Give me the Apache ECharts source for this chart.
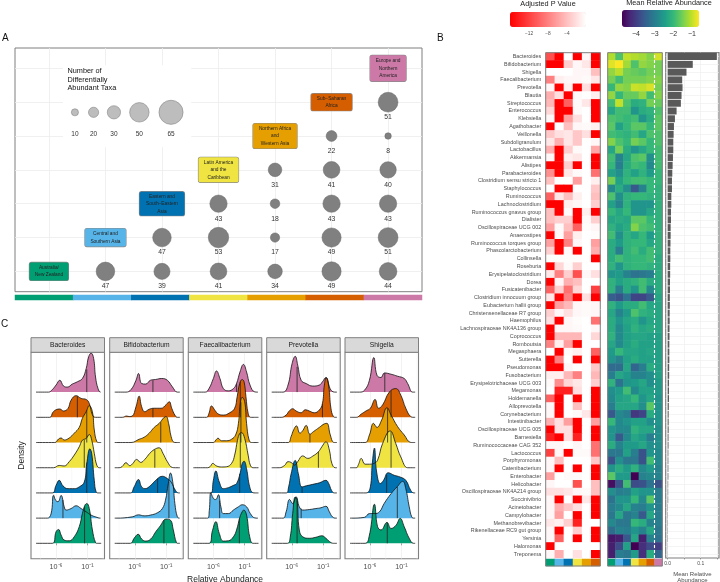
<!DOCTYPE html>
<html><head><meta charset="utf-8">
<style>html,body{margin:0;padding:0;background:#fff}#c{width:720px;height:582px}</style>
<script src="https://cdn.jsdelivr.net/npm/echarts@6/dist/echarts.min.js"></script>
</head><body><div id="c"></div>
<script>
const regionColors=['#009E73','#56B4E9','#0072B2','#F0E442','#E69F00','#D55E00','#CC79A7'];
const regionLabels=['Australia/\nNew Zealand','Central and\nSouthern Asia','Eastern and\nSouth\u2212Eastern\nAsia','Latin America\nand the\nCaribbean','Northern Africa\nand\nWestern Asia','Sub\u2212Saharan\nAfrica','Europe and\nNorthern\nAmerica'];
const taxaCounts=[[2,1,47],[3,1,39],[3,2,47],[4,1,41],[4,2,53],[4,3,43],[5,1,34],[5,2,17],[5,3,18],[5,4,31],[6,1,49],[6,2,49],[6,3,43],[6,4,41],[6,5,22],[7,1,44],[7,2,51],[7,3,43],[7,4,40],[7,5,8],[7,6,51]];
const legendCounts=[10,20,30,50,65];
const taxa=['Bacteroides','Bifidobacterium','Shigella','Faecalibacterium','Prevotella','Blautia','Streptococcus','Enterococcus','Klebsiella','Agathobacter','Veillonella','Subdoligranulum','Lactobacillus','Akkermansia','Alistipes','Parabacteroides','Clostridium sensu stricto 1','Staphylococcus','Ruminococcus','Lachnoclostridium','Ruminococcus gnavus group','Dialister','Oscillospiraceae UCG 002','Anaerostipes','Ruminococcus torques group','Phascolarctobacterium','Collinsella','Roseburia','Erysipelatoclostridium','Dorea','Fusicatenibacter','Clostridium innocuum group','Eubacterium hallii group','Christensenellaceae R7 group','Haemophilus','Lachnospiraceae NK4A136 group','Coprococcus','Romboutsia','Megasphaera','Sutterella','Pseudomonas','Fusobacterium','Erysipelotrichaceae UCG 003','Megamonas','Holdemanella','Alloprevotella','Corynebacterium','Intestinibacter','Oscillospiraceae UCG 005','Barnesiella','Ruminococcaceae CAG 352','Lactococcus','Porphyromonas','Catenibacterium','Enterobacter','Helicobacter','Oscillospiraceae NK4A214 group','Succinivibrio','Acinetobacter','Campylobacter','Methanobrevibacter','Rikenellaceae RC9 gut group','Yersinia','Halomonas','Treponema'];
const pValues=[[-11,-16,0,-16,-.5,-16],[-16,-16,-3,-.5,-1.5,-16],[0,0,0,-.5,-.5,-4],[-8,-1,-.5,-.5,-.3,-1.5],[-.5,-16,-1,-16,-2,-16],[-5,-2,-16,-.3,0,-1],[-4.5,-16,-10,-.3,-1.5,-16],[-2.5,-16,-16,-.3,0,-16],[-.5,-16,-6,-2,0,-16],[-16,0,-4,-.5,-.3,-1],[-3.5,-2,-1.5,-3.5,-2,-16],[-1.5,-5,-1.5,-3.5,0,-.5],[-5,-16,-3,-.3,0,-5.5],[-.5,-16,-1,-1.5,0,-16],[-16,-16,-3,-16,0,-16],[-7,-16,-1.5,-.3,0,-9],[-4,0,0,-6,0,-1],[0,-16,-16,0,0,-3.5],[-10,-1.5,-4,-1,0,-4],[-16,-16,-1,-.5,0,-3],[-4,-16,-.3,-16,-1,-16],[-4,-3,-3,-16,-.3,-3],[-6,-.3,-4,-10,-.2,-.5],[-16,-.3,-6,-1,0,-.2],[-6,-16,-8,-.5,0,-6],[-3,-16,-.3,-16,0,-5],[-.2,-.2,-.2,-.2,0,-16],[-16,-2.5,-.3,-3,0,0],[-1.5,-8,-3,-11,-.5,-2],[-16,-.5,-5,-4,0,0],[-10,-3,-9,-2.5,0,-12],[-1.5,-16,-8,-16,-2,-16],[-16,-6,-4.5,-.5,-.3,-.5],[-3,-.5,-2,-.5,-.3,-.5],[-2,-16,-.5,-.2,0,-9],[-16,-.5,-.5,-.3,0,-.5],[-16,-4.5,-4.5,-4.5,0,-2.5],[-8,-1,-6,-16,0,0],[0,-16,-.3,-1,0,-10],[-16,-8,0,-16,0,-16],[-16,-16,-.5,0,0,-3.5],[-1,-1,-4.5,-8,0,-4.5],[-.3,-7,-2.5,-1.5,0,-3],[0,-14,-14,-2,0,-16],[-10,-16,0,-16,0,-16],[-.5,-16,0,-4,0,-16],[-.5,-16,0,-.3,-1.5,-16],[-5,-2,-6,-16,0,-6],[-16,-2,-2,-16,0,-16],[-14,-16,-2,-14,0,-16],[-.5,-.5,0,-.5,0,-9],[-12,-.5,-16,-.3,-.3,-9],[-.5,-4,0,0,0,-3.5],[-.5,-16,0,-16,0,-16],[-6,0,-.3,-.3,0,-16],[-.5,0,0,-11,0,-4],[-2,-2,-1.5,-.5,-.3,-4],[-.5,-16,0,-16,-1.5,-16],[-.5,-5,-3.5,-2,0,-16],[-.5,-6,0,-16,0,-16],[-1.5,-1,-3,-14,0,0],[-.5,-16,0,-3,0,-16],[-.5,-10,0,-16,0,-16],[-16,0,0,0,0,0],[-.5,-5,0,-2,0,-16]];
const meanAbundance=[[-1.1,-1.8,-1,-1.1,-1.2,-1.4,-.9],[-.8,-.62,-1.2,-1.8,-1.3,-1.4,-1.5],[-1.3,-1.05,-1.5,-1.6,-1.7,-1.5,-1.5],[-1.5,-1.9,-1.5,-1.5,-1.5,-1.4,-1.4],[-2,-1.3,-1.4,-.95,-1,-.85,-1.5],[-1.3,-2,-1.6,-1.6,-1.3,-1.9,-1.4],[-1.9,-1,-1.8,-2.2,-2.1,-1.5,-1.6],[-2.3,-1.9,-1.9,-2.6,-2.2,-2.1,-1.8],[-1.8,-1.9,-2,-1.9,-2.6,-2.2,-1.7],[-1.7,-2.4,-2,-1.7,-1.7,-2,-1.7],[-1.9,-2,-2.1,-1.9,-2.3,-1.8,-1.8],[-1.4,-1.8,-2,-1.5,-1.7,-2,-1.8],[-2.3,-1.5,-2.2,-2.6,-2.3,-2,-1.9],[-1.9,-2.9,-2.3,-1.8,-1.7,-2.7,-1.9],[-2,-3,-2.2,-1.9,-2,-2.8,-1.9],[-2.4,-2.7,-2.1,-2.4,-2.1,-2.5,-2],[-1.5,-2.4,-2,-1.9,-1.9,-2,-2],[-2.8,-2.2,-2.7,-3.6,-2.9,-2,-2.1],[-1.8,-2.7,-2.1,-2,-2,-2.1,-2.1],[-2.4,-2.9,-2.1,-2.6,-2.6,-2.6,-2.1],[-2,-2.3,-2,-2.6,-2.6,-2.3,-2.1],[-2.3,-2.2,-2.3,-1.7,-1.7,-2,-2.1],[-2.1,-2.4,-2.2,-1.4,-1.8,-1.9,-2.1],[-1.9,-2.7,-2.1,-2.3,-2,-2.5,-2.1],[-2.2,-2.5,-2.1,-2,-2,-2.3,-2.1],[-2.2,-3,-2.1,-1.9,-2.2,-1.9,-2.1],[-2.2,-1.9,-2.1,-2,-2,-1.9,-2.2],[-2.1,-2.6,-2.1,-2,-2,-2.1,-2.2],[-2.6,-2.5,-2.9,-3.2,-3.1,-3,-2.2],[-2.1,-2.4,-2.2,-2.1,-1.9,-2.2,-2.2],[-2.1,-3,-2.2,-2.6,-1.9,-2.8,-2.2],[-3.5,-3.7,-3.2,-3.9,-3.9,-3.6,-2.3],[-2.1,-2.5,-2.2,-2.2,-1.9,-2.3,-2.3],[-2.3,-2.9,-2.5,-1.8,-2.1,-2.2,-2.3],[-2.2,-2.6,-2.3,-2.2,-2.6,-2.3,-2.3],[-2.2,-2.8,-2.4,-2.1,-2.3,-2.2,-2.3],[-2.1,-2.8,-2.4,-2.3,-2.3,-2.4,-2.4],[-2.3,-2.8,-2.4,-2.2,-2.4,-2.4,-2.4],[-2.5,-2,-2.3,-2.3,-2.4,-2.3,-2.4],[-2.6,-2.9,-2.4,-2.2,-2.4,-2.4,-2.4],[-3.3,-3.3,-2.3,-3.4,-3,-2.2,-2.4],[-3,-2.3,-2.5,-2.9,-2.9,-2.7,-2.4],[-2.1,-3.2,-2.6,-2.5,-2.3,-2.7,-2.5],[-2.7,-2.5,-1.9,-2.8,-2.4,-2.4,-2.5],[-2.8,-2.4,-2.3,-2,-2.6,-2.3,-2.6],[-3,-2.3,-2.3,-2.3,-2.7,-1.7,-2.6],[-3.6,-2.8,-3,-4.1,-3.9,-2.2,-2.6],[-2,-2.8,-2.6,-2.4,-2.4,-2.7,-2.6],[-2.6,-2.8,-2.8,-2.1,-2.3,-2.3,-2.7],[-2.6,-3.6,-2.8,-2.3,-2.5,-3,-2.7],[-2.2,-2.9,-2.5,-2.5,-2.3,-2.7,-2.7],[-3.1,-3.1,-2.4,-3,-3.7,-2.6,-2.8],[-3.7,-2.7,-3.1,-3.1,-3.7,-1.9,-2.8],[-2.6,-2.2,-2.5,-2.1,-2.8,-2.5,-2.9],[-1.7,-2.5,-2.5,-4.75,-2.9,-2.8,-2.9],[-4.6,-3.7,-1.9,-3.8,-3.7,-3.2,-3.7],[-2.7,-3,-2.9,-2.4,-2.6,-2.6,-3],[-3.2,-2.6,-2.6,-2,-2.8,-1.7,-3],[-3,-2.8,-2.3,-2.9,-3,-2.6,-3],[-3.1,-2.3,-3.1,-2.9,-3.6,-2.3,-3],[-2.8,-3.1,-3.1,-2,-2.2,-2.9,-3],[-3.3,-2.9,-3,-2.6,-2.9,-2.3,-3.1],[-4.5,-4.4,-3.6,-2.3,-4.4,-2.9,-3.2],[-4.4,-3.8,-2.4,-4.75,-4.2,-3.8,-4],[-4.4,-3,-3.1,-2.5,-4.2,-2.2,-3.4]];
const overallMean=[.149,.076,.057,.044,.045,.042,.04,.027,.022,.019,.018,.017,.017,.016,.015,.014,.013,.013,.011,.011,.01,.01,.009,.009,.0085,.008,.008,.0075,.0075,.007,.007,.0065,.0065,.006,.006,.0055,.0055,.005,.005,.005,.0045,.0045,.004,.004,.004,.0035,.003,.003,.003,.0025,.0025,.002,.002,.002,.002,.0015,.0015,.0015,.001,.001,.001,.001,.001,.0005,.0005];
const facetNames=['Bacteroides','Bifidobacterium','Faecalibacterium','Prevotella','Shigella'];
// density curves, listed from the top ridge (Europe) to the bottom ridge (Australia): [log10 abundance, height]
const bacteroides=[
[[-7.2,0],[-6.6,.1],[-6,.28],[-5.4,.47],[-4.8,.24],[-4.2,.2],[-3.4,.32],[-2.6,.41],[-1.8,.54],[-1.2,.93],[-.8,1.4],[-.4,1.55],[0,1.33],[.3,.6],[.7,.14],[1.1,0]],
[[-7,0],[-6.5,.2],[-6,.3],[-5.4,.33],[-4.8,.25],[-4.1,.35],[-3.6,.68],[-2.8,.86],[-2,.75],[-1.2,.71],[-.7,.55],[-.2,.1],[.3,0]],
[[-6.2,0],[-5.6,.14],[-5.2,.18],[-4.7,.1],[-3.9,.18],[-3.1,.37],[-2.3,.6],[-1.8,.96],[-1.2,1.22],[-.7,1.46],[-.2,1.22],[.1,.5],[.5,.04],[.9,0]],
[[-6.4,0],[-5.5,.09],[-4.7,.07],[-3.9,.24],[-3.1,.5],[-2.3,.83],[-1.8,1.09],[-1.2,1.16],[-.7,1.32],[-.3,1.09],[.1,.57],[.5,.1],[.9,0]],
[[-6.6,0],[-6,.3],[-5.5,.5],[-4.9,.28],[-4.1,.17],[-3.1,.17],[-2.3,.24],[-1.5,.43],[-1.1,1.16],[-.6,1.75],[-.3,1.55],[.1,.5],[.4,.04],[.8,0]],
[[-7.4,0],[-6.8,.17],[-6.4,.91],[-6.05,.7],[-5.7,.65],[-5.2,.9],[-4.7,.45],[-4.4,.32],[-3.6,.38],[-2.8,.49],[-2,.38],[-1.2,.25],[-.4,.12],[.3,.05],[1.1,0]],
[[-6.6,0],[-6,.46],[-5.6,.55],[-5.2,.33],[-4.7,.13],[-3.9,.1],[-3.1,.26],[-2.3,.66],[-1.8,1.18],[-1.4,1.51],[-1.1,1.58],[-.7,1.38],[-.2,.53],[.3,.03],[.6,0]]];
const bifidobacterium=[
[[-7.4,0],[-6.6,.1],[-5.8,.47],[-5.4,.74],[-4.9,.34],[-4.25,.32],[-3.5,.47],[-2.7,.5],[-1.7,.54],[-.8,.47],[0,.21],[.8,0]],
[[-8,0],[-7.3,.05],[-6.9,.03],[-6.4,.05],[-5.8,.42],[-5.3,.84],[-4.9,.42],[-4.4,.22],[-3.7,.32],[-2.9,.36],[-1.8,.36],[-1,.5],[-.5,.62],[-.1,.36],[.4,.09],[.8,0]],
[[-6.6,0],[-5.3,.13],[-4.5,.21],[-3.7,.37],[-2.9,.6],[-2.1,.76],[-1.3,1],[-1,1.03],[-.6,.76],[-.2,.24],[.25,.01],[.6,0]],
[[-8.5,0],[-8,.05],[-7.4,.2],[-6.8,.08],[-6.3,.17],[-5.7,.33],[-5.05,.21],[-4.4,.33],[-3.6,.57],[-2.9,.72],[-2.1,.79],[-1.5,.57],[-.8,.24],[0,.01],[.5,0]],
[[-6.7,0],[-6.1,.24],[-5.4,.53],[-4.9,.24],[-4.35,.17],[-3.45,.3],[-2.65,.5],[-1.6,.66],[-.8,.57],[-.2,.43],[.5,.1],[1,0]],
[[-9,0],[-6.4,.05],[-5.4,.13],[-4.5,.09],[-3.5,.12],[-2.4,.21],[-1.6,.38],[-1.1,.71],[-.65,1.37],[-.3,1.79],[.1,1.37],[.4,.58],[.8,.05],[1.15,0]],
[[-6.7,0],[-6.1,.2],[-5.45,.36],[-4.9,.17],[-4.25,.09],[-3.45,.17],[-2.65,.46],[-1.85,.72],[-1.35,.92],[-1,.96],[-.3,.92],[.15,.53],[.65,.03],[.95,0]]];
const faecalibacterium=[
[[-7.3,0],[-6.7,.14],[-6,.54],[-5.5,.84],[-4.95,.54],[-4.4,.14],[-3.6,.05],[-2.8,.14],[-2.3,.34],[-1.75,.8],[-1.2,1.1],[-.7,.8],[-.15,.28],[.6,.01],[1.1,0]],
[[-7.1,0],[-6.7,.16],[-6.3,.45],[-5.7,.26],[-5.2,.13],[-4.4,.09],[-3.4,.18],[-2.6,.36],[-2.2,.82],[-1.8,1.34],[-1.4,1.5],[-1.1,1.41],[-.8,.82],[-.45,.16],[-.05,0]],
[[-6,0],[-5.6,.1],[-5.25,.17],[-4.7,.07],[-3.9,.07],[-3.1,.13],[-2.45,.3],[-2,.76],[-1.7,1.55],[-1.4,1.79],[-1,1.62],[-.7,.76],[-.3,.1],[.1,0]],
[[-6.9,0],[-6.5,.05],[-6.1,.17],[-5.5,.07],[-4.7,.03],[-3.9,.04],[-3.1,.17],[-2.6,.5],[-2.15,1.09],[-1.8,1.36],[-1.5,1.39],[-1,1.16],[-.45,.5],[-.1,.1],[.35,0]],
[[-6.4,0],[-6,.5],[-5.6,.87],[-5.05,.43],[-4.4,.17],[-3.6,.21],[-2.8,.3],[-2.3,.37],[-1.75,.76],[-1.4,1.16],[-1.1,1.26],[-.7,.96],[-.2,.24],[.3,.01],[.7,0]],
[[-6.9,0],[-6.65,.3],[-6.4,1.01],[-6,.78],[-5.6,.74],[-5.2,.93],[-4.8,.45],[-4.4,.18],[-3.6,.18],[-2.8,.32],[-2,.45],[-1.4,.53],[-.7,.45],[-.1,.18],[.6,.01],[1.1,0]],
[[-6.7,0],[-6.15,.5],[-5.6,.86],[-5.05,.39],[-4.4,.09],[-3.6,.1],[-2.8,.26],[-2.3,.53],[-1.75,1.05],[-1.4,1.25],[-1.15,1.32],[-.7,1.12],[-.2,.26],[.35,0]]];
const prevotella=[
[[-7.4,0],[-6.6,.28],[-5.95,1.13],[-5.45,1.42],[-5.05,1.07],[-4.5,.47],[-3.7,.34],[-2.65,.24],[-1.6,.28],[-1.1,.41],[-.55,.58],[.25,.08],[1.05,0]],
[[-7.7,0],[-6.9,.09],[-6.4,.25],[-5.85,.34],[-5.3,.25],[-4.5,.18],[-3.85,.3],[-3.2,.25],[-2.4,.18],[-1.6,.29],[-1.1,.55],[-.8,1.28],[-.5,1.57],[-.1,1.22],[.25,.36],[.65,.03],[1,0]],
[[-6.6,0],[-6.1,.24],[-5.7,.5],[-5.25,.66],[-4.7,.37],[-4.25,.47],[-3.7,.68],[-3.1,.33],[-2.55,.43],[-1.6,.6],[-.8,.74],[-.4,.76],[.15,.3],[.65,.01],[1,0]],
[[-8,0],[-7.15,.09],[-6.6,.24],[-6.1,.21],[-5.55,.1],[-5.05,.24],[-4.25,.47],[-3.45,.37],[-2.65,.46],[-1.75,.63],[-1.2,.83],[-.55,1.03],[0,.7],[.4,.17],[.95,0]],
[[-6.9,0],[-6.5,.24],[-6.1,.76],[-5.45,1.29],[-4.95,.76],[-4.35,.24],[-3.7,.28],[-2.65,.34],[-1.6,.4],[-.55,.5],[-.1,.37],[.35,.1],[.8,0]],
[[-7.4,0],[-6.9,.25],[-6.35,.74],[-5.85,.58],[-5.3,.84],[-4.8,.45],[-4.25,.32],[-3.2,.34],[-2.15,.38],[-1.35,.41],[-.55,.47],[0,.25],[.5,.05],[1.05,0]],
[[-6.7,0],[-6.25,.24],[-5.85,1.18],[-5.45,1.84],[-5.15,1.7],[-4.8,.53],[-4.25,.26],[-3.2,.2],[-2.15,.24],[-1.2,.3],[-.55,.2],[.25,.03],[.8,0]]];
const shigella=[
[[-7.7,0],[-6.9,.07],[-6.1,.47],[-5.4,1.37],[-4.9,.67],[-4.25,.58],[-3.7,.76],[-2.65,.71],[-1.6,.63],[-.55,.54],[0,.34],[.8,0]],
[[-8.2,0],[-7.4,.13],[-6.6,.26],[-5.95,.36],[-5.2,.71],[-4.65,.36],[-4,.49],[-2.9,1.01],[-1.9,1.14],[-1.1,.88],[-.3,.36],[.5,.03],[1,0]],
[[-6.8,0],[-6.1,.3],[-5.45,.76],[-4.9,.6],[-4.15,.89],[-3.3,1.38],[-2.65,1.09],[-1.6,.63],[-.55,.3],[.4,.01],[.8,0]],
[[-8.2,0],[-7.85,.13],[-7.4,.37],[-6.8,.14],[-6.1,.14],[-5.4,.17],[-4.8,.3],[-4,.96],[-2.8,1.46],[-1.9,.96],[-1.1,.43],[0,0],[.5,0]],
[[-6.65,0],[-5.95,.24],[-5.65,1.16],[-5.3,1.78],[-4.95,.83],[-4.35,.37],[-3.85,.5],[-3.1,.8],[-2.15,.7],[-1.2,.63],[-.3,.5],[.5,.1],[1,0]],
[[-9,0],[-6.9,.03],[-6.1,.18],[-5.3,.18],[-4.5,.25],[-3.75,.58],[-2.65,.97],[-1.65,1.25],[-.8,1.46],[-.3,1.17],[.25,.45],[.65,.05],[1,0]],
[[-6.8,0],[-6.1,.33],[-5.3,1.55],[-4.8,.66],[-4.25,.53],[-3.3,.83],[-2.65,.59],[-1.85,.72],[-1.2,.99],[-.55,.66],[.25,.2],[.95,0]]];
const medians=[
[[-1.1,.9],[-2.6,.84],[-1.1,1.28],[-1.5,1.1],[-1.1,1.2],[-4.9,.72],[-1.45,1.45]],
[[-3.1,.47],[-3.1,.36],[-1.85,.8],[-2.8,.72],[-2.35,.58],[-.55,1.45],[-1.35,.92]],
[[-2.3,.34],[-1.7,1.4],[-1.6,1.6],[-1.7,1.37],[-1.8,.76],[-5,.7],[-1.85,.98]],
[[-5.15,1],[-1.1,.55],[-3.1,.33],[-1.75,.63],[-4.35,.24],[-4.5,.38],[-5.15,1.7]],
[[-3.65,.76],[-2.65,1.05],[-3.2,1.36],[-2.65,1.42],[-3.35,.72],[-1.65,1.25],[-3.25,.82]]];
const facetCurves=[bacteroides,bifidobacterium,faecalibacterium,prevotella,shigella];
const densityTicks=[-6,-1];
const densityMinorGrid=[-8.5,-3.5,1.5];
const legendPTicks=[-12,-8,-4];
const legendAbundanceTicks=[-4,-3,-2,-1];

const FONT='"Liberation Sans",Arial,sans-serif';
const GREY='#7f7f7f', GRID='#ececec', TXT='#4d4d4d';
const viridis=['#440154','#482878','#3e4989','#31688e','#26828e','#1f9e89','#35b779','#6ece58','#b5de2b','#fde725'];
const grids=[],xAxes=[],yAxes=[],series=[],graphic=[];
function addGrid(g,x,y){grids.push(Object.assign({containLabel:false,outerBoundsMode:'none'},g));const i=grids.length-1;
  xAxes.push(Object.assign({gridIndex:i},x));yAxes.push(Object.assign({gridIndex:i},y));return i;}
const hiddenVal={type:'value',show:false,splitLine:{show:false}};
function hiddenCat(data,inv){return {type:'category',data,show:false,inverse:!!inv};}
const hx=(v)=>Object.assign({},hiddenVal,v);

/* ---------- Panel A ---------- */
const boxSizes=[[39,18],[41,18],[45,24],[40,25],[44,25],[41,17],[36,26]];
const oneToSeven=[1,2,3,4,5,6,7];
const gA=addGrid({left:15,top:48,width:407,height:243.7,show:true,borderColor:GREY,borderWidth:1,backgroundColor:'#fff'},
 {type:'value',min:.4,max:7.6,axisLine:{show:false},axisLabel:{show:false},axisTick:{show:false,customValues:oneToSeven},splitLine:{show:true,lineStyle:{color:GRID,width:.8}}},
 {type:'value',min:.4,max:7.6,axisLine:{show:false},axisLabel:{show:false},axisTick:{show:false,customValues:oneToSeven},splitLine:{show:true,lineStyle:{color:GRID,width:.8}}});
series.push({type:'scatter',xAxisIndex:gA,yAxisIndex:gA,silent:true,z:3,data:taxaCounts,
 symbolSize:d=>4+.31*d[2],itemStyle:{color:'#808080',borderColor:'#666',borderWidth:.5,opacity:1},
 label:{show:true,position:'inside',offset:[0,15],formatter:p=>p.value[2],fontSize:6.8,color:'#333',fontFamily:FONT}});
const legendX=[1.46,1.79,2.15,2.6,3.16];
series.push({type:'scatter',xAxisIndex:gA,yAxisIndex:gA,silent:true,z:3,
 data:legendCounts.map((c,i)=>[legendX[i],5.7,c]),
 symbolSize:d=>4+.31*d[2],itemStyle:{color:'#bdbdbd',borderColor:'#777',borderWidth:.5,opacity:1},
 label:{show:true,position:'inside',offset:[0,22],formatter:p=>p.value[2],fontSize:6.5,color:'#333',fontFamily:FONT},
 markArea:{silent:true,itemStyle:{color:'#fff'},data:[[{coord:[1.25,7.09]},{coord:[3.52,4.67]}]]}});
series.push({type:'scatter',xAxisIndex:gA,yAxisIndex:gA,silent:true,z:4,symbolSize:1,itemStyle:{color:'transparent',opacity:1},
 data:regionLabels.map((t,i)=>({value:[i+1,i+1],label:{show:true,position:'inside',formatter:t,width:boxSizes[i][0],height:boxSizes[i][1],
  backgroundColor:regionColors[i],borderColor:'#8a8a8a',borderWidth:.6,borderRadius:2,align:'center',verticalAlign:'middle',fontSize:4.8,lineHeight:7.5,color:'#222',fontFamily:FONT}}))});
const gAs=addGrid({left:15,top:295,width:407,height:5},hiddenCat(regionLabels),hiddenCat(['s']));
series.push({type:'heatmap',xAxisIndex:gAs,yAxisIndex:gAs,silent:true,data:regionColors.map((c,i)=>({value:[i,0,i],itemStyle:{color:c}}))});

/* ---------- Panel B ---------- */
const heatTop=52.7, heatH=505.3;
const colsP=[0,1,2,3,4,5], colsM=[0,1,2,3,4,5,6];
const gH1=addGrid({left:545.7,top:heatTop,width:54.6,height:heatH},hiddenCat(colsP),
 {type:'category',data:taxa,inverse:true,axisLine:{show:false},axisTick:{show:false},axisLabel:{interval:0,fontSize:5.4,color:TXT,margin:4.5,fontFamily:FONT}});
const sP=series.length;
const pData=[];pValues.forEach((r,y)=>r.forEach((v,x)=>pData.push([x,y,v])));
series.push({type:'heatmap',xAxisIndex:gH1,yAxisIndex:gH1,silent:true,data:pData,progressive:0});
const gS1=addGrid({left:545.7,top:559,width:54.6,height:7},hiddenCat(colsP),hiddenCat(['s']));
series.push({type:'heatmap',xAxisIndex:gS1,yAxisIndex:gS1,silent:true,data:colsP.map(i=>({value:[i,0,i],itemStyle:{color:regionColors[i]}}))});
const gH2=addGrid({left:607.7,top:heatTop,width:54.6,height:heatH},hiddenCat(colsM),hiddenCat(taxa,true));
const sM=series.length;
const mData=[];meanAbundance.forEach((r,y)=>r.forEach((v,x)=>mData.push([x,y,v])));
series.push({type:'heatmap',xAxisIndex:gH2,yAxisIndex:gH2,silent:true,data:mData,progressive:0});
const gS2=addGrid({left:607.7,top:559,width:54.6,height:7},hiddenCat(colsM),hiddenCat(['s']));
series.push({type:'heatmap',xAxisIndex:gS2,yAxisIndex:gS2,silent:true,data:colsM.map(i=>({value:[i,0,i],itemStyle:{color:regionColors[i]}}))});
const gDash=addGrid({left:607.7,top:heatTop,width:54.6,height:heatH},hx({min:0,max:7}),hx({min:0,max:1}));
series.push({type:'line',xAxisIndex:gDash,yAxisIndex:gDash,silent:true,z:6,showSymbol:false,data:[[6,0],[6,1]],lineStyle:{color:'#fff',width:1.1,type:[3,2]}});
const gBar=addGrid({left:665.7,top:heatTop,width:53.3,height:heatH,show:true,borderColor:GREY,borderWidth:1.2,backgroundColor:'#fff'},
 {type:'value',min:-.006,max:.1555,axisLine:{show:false},
  axisTick:{show:true,length:1.5,lineStyle:{color:'#555',width:.5},customValues:[0,.05,.1,.15]},
  axisLabel:{customValues:[0,.1],fontSize:5,color:TXT,margin:3,fontFamily:FONT,formatter:v=>v.toFixed(1)},
  splitLine:{show:true,lineStyle:{color:GRID,width:.6}},
  name:'Mean Relative\nAbundance',nameLocation:'middle',nameGap:12,nameTextStyle:{fontSize:6,lineHeight:6.5,color:TXT,fontFamily:FONT}},
 {type:'category',data:taxa,inverse:true,axisLine:{show:false},axisTick:{show:false},axisLabel:{show:false},
  splitLine:{show:true,alignWithLabel:true,interval:0,lineStyle:{color:GRID,width:.6}}});
series.push({type:'bar',xAxisIndex:gBar,yAxisIndex:gBar,silent:true,data:overallMean,barCategoryGap:'10%',itemStyle:{color:'#595959'}});
/* legend tick axes */
const gL1=addGrid({left:510,top:27,width:76,height:1},
 {type:'value',min:-16,max:0,axisLine:{show:false},axisTick:{show:false},splitLine:{show:false},
  axisLabel:{customValues:legendPTicks,fontSize:4.8,color:TXT,margin:3,fontFamily:FONT,formatter:v=>'\u2212'+Math.abs(v)}},hx({min:0,max:1}));
const gL2=addGrid({left:622,top:27,width:77,height:1},
 {type:'value',min:-4.75,max:-.62,axisLine:{show:false},axisTick:{show:false},splitLine:{show:false},
  axisLabel:{customValues:legendAbundanceTicks,fontSize:7,color:'#333',margin:3,fontFamily:FONT,formatter:v=>'\u2212'+Math.abs(v)}},hx({min:0,max:1}));

/* ---------- Panel C ---------- */
const facetLeft=[31,109.7,188.3,266.7,345], facetW=73.5, facetTop=352.3, facetH=206.4;
facetCurves.forEach((curves,f)=>{
 const g=addGrid({left:facetLeft[f],top:facetTop,width:facetW,height:facetH,show:true,borderColor:GREY,borderWidth:1.1,backgroundColor:'#fff'},
  Object.assign({type:'value',min:-10,max:1.73,axisLine:{show:false},
   axisTick:{show:true,length:2,lineStyle:{color:'#555',width:.5},customValues:densityTicks},
   axisLabel:{customValues:densityTicks,fontSize:7.2,color:TXT,margin:4.5,fontFamily:FONT,formatter:v=>v===-6?'10\u207B\u2076':'10\u207B\u00B9'},
   splitLine:{show:true,lineStyle:{color:GRID,width:.7}}},
   f===2?{name:'Relative Abundance',nameLocation:'middle',nameGap:16,nameTextStyle:{fontSize:8.5,color:'#222',fontFamily:FONT}}:{}),
  Object.assign({type:'value',min:-.61,max:7.58,axisLine:{show:false},axisTick:{show:false},axisLabel:{show:false},splitLine:{show:false}},
   f===0?{name:'Density',nameLocation:'middle',nameGap:5,nameTextStyle:{fontSize:8.5,color:'#222',fontFamily:FONT}}:{}));
 densityMinorGrid.forEach(v=>series.push({type:'line',xAxisIndex:g,yAxisIndex:g,silent:true,showSymbol:false,z:1,data:[[v,-.61],[v,7.58]],lineStyle:{color:'#f3f3f3',width:.5}}));
 curves.forEach((pts,i)=>{
  const base=6-i, col=regionColors[6-i];
  const full=[[-9.2,0],...pts,[1.2,0]].map(p=>[p[0],base+p[1]]);
  series.push({type:'line',xAxisIndex:g,yAxisIndex:g,silent:true,showSymbol:false,z:2,data:full,smooth:.45,
   lineStyle:{color:'#111',width:.8},areaStyle:{color:col,opacity:1,origin:base}});
  const m=medians[f][i];
  series.push({type:'line',xAxisIndex:g,yAxisIndex:g,silent:true,showSymbol:false,z:2,data:[[m[0],base],[m[0],base+m[1]]],lineStyle:{color:'#222',width:.8}});
 });
 graphic.push({type:'rect',shape:{x:facetLeft[f],y:337.7,width:facetW,height:14.6},style:{fill:'#d9d9d9',stroke:GREY,lineWidth:1},z:30});
 graphic.push({type:'text',x:facetLeft[f]+facetW/2,y:345,z:31,style:{text:facetNames[f],fill:'#1a1a1a',font:'6.7px '+FONT,textAlign:'center',textVerticalAlign:'middle'}});
});

/* ---------- frames & text ---------- */
[[545.7,heatTop,54.6,513.3],[607.7,heatTop,54.6,513.3]].forEach(r=>graphic.push({type:'rect',z:30,shape:{x:r[0],y:r[1],width:r[2],height:r[3]},style:{fill:'none',stroke:GREY,lineWidth:1}}));
[['A',2,38,10],['B',437,38,10],['C',1,324,10]].forEach(t=>graphic.push({type:'text',x:t[1],y:t[2],z:31,style:{text:t[0],fill:'#111',font:t[3]+'px '+FONT,textVerticalAlign:'middle'}}));
graphic.push({type:'text',x:67.5,y:66.5,z:31,style:{text:'Number of\nDifferentially\nAbundant Taxa',fill:'#111',font:'7.3px '+FONT,lineHeight:8.7}});
graphic.push({type:'text',x:548,y:4,z:31,style:{text:'Adjusted P Value',fill:'#222',font:'7.3px '+FONT,textAlign:'center',textVerticalAlign:'middle'}});
graphic.push({type:'text',x:669,y:3,z:31,style:{text:'Mean Relative Abundance',fill:'#222',font:'7.3px '+FONT,textAlign:'center',textVerticalAlign:'middle'}});

const chart=echarts.init(document.getElementById('c'),null,{renderer:'canvas'});
chart.setOption({animation:false,backgroundColor:'#fff',textStyle:{fontFamily:FONT},
 grid:grids,xAxis:xAxes,yAxis:yAxes,series,graphic:{elements:graphic},
 visualMap:[
  {type:'continuous',seriesIndex:sP,min:-16,max:0,orient:'horizontal',left:510,top:12,itemWidth:15,itemHeight:76,padding:0,text:null,calculable:false,hoverLink:false,showLabel:false,inRange:{color:['#ff0000','#ffffff']},textStyle:{fontSize:1,color:'transparent'}},
  {type:'continuous',seriesIndex:sM,min:-4.75,max:-.62,orient:'horizontal',left:622,top:10,itemWidth:17,itemHeight:77,padding:0,text:null,calculable:false,hoverLink:false,showLabel:false,inRange:{color:viridis},textStyle:{fontSize:1,color:'transparent'}}
 ]});
</script></body></html>
